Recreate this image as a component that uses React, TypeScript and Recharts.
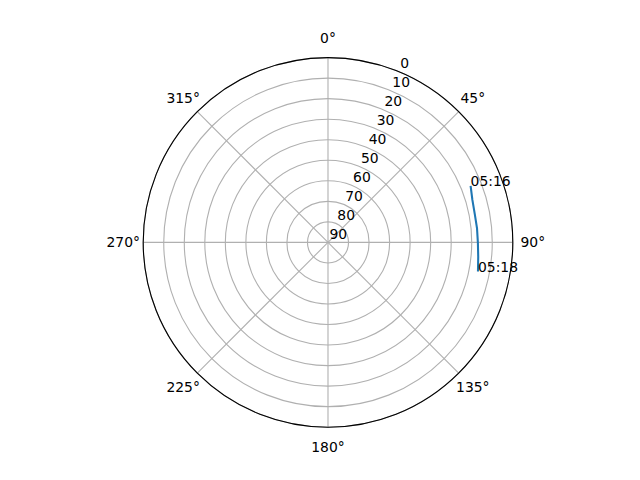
import { RadarChart, Radar, PolarGrid, PolarAngleAxis, PolarRadiusAxis } from 'recharts';

// pass track (azimuth deg, elevation deg)
const TIMES = ['05:16', '05:16:20', '05:16:40', '05:17', '05:17:20', '05:17:40', '05:18'];
const AZIMUTH = [68.4, 73.6, 79.1, 84.5, 90.2, 95.5, 101.0];
const ELEVATION = [15.3, 16.7, 17.2, 17.1, 17.0, 16.5, 15.6];
const ANGLE_TICKS = [0, 45, 90, 135, 180, 225, 270, 315];
const LABELLED = ['05:16', '05:18'];

const data = TIMES.map((t, i) => ({ time: t, az: AZIMUTH[i], el: ELEVATION[i] }));

const FONT = 'DejaVu Sans, sans-serif';
const FS = 13.9;

const AngleTick = (props: any) => (
  <text x={props.x} y={props.y + 5} textAnchor="middle" fontFamily={FONT} fontSize={FS} fill="#000">
    {`${props.payload.value}°`}
  </text>
);

const RadiusTick = (props: any) => (
  <text x={props.x + 1.5} y={props.y - 3.3} textAnchor="start" fontFamily={FONT} fontSize={FS} fill="#000">
    {props.payload.value}
  </text>
);

// open polyline (Radar closes its polygon) + first/last time annotations
const TrackShape = (props: any) => {
  const pts = (props.points || []) as any[];
  return (
    <g>
      <polyline
        points={pts.map((p) => `${p.x},${p.y}`).join(' ')}
        fill="none"
        stroke="#1f77b4"
        strokeWidth={2.08}
        strokeLinejoin="round"
      />
      {pts
        .filter((p) => LABELLED.includes(p.payload.time))
        .map((p) => (
          <text key={p.payload.time} x={p.x} y={p.y} fontFamily={FONT} fontSize={FS} fill="#000">
            {p.payload.time}
          </text>
        ))}
    </g>
  );
};

export default function App() {
  return (
    <div style={{ position: 'absolute', left: 0, top: 0, width: 640, height: 480, background: '#fff' }}>
      <RadarChart
        width={640}
        height={480}
        data={data}
        cx={328}
        cy={242.4}
        innerRadius={0}
        outerRadius={184.8}
        startAngle={90}
        endAngle={-270}
        margin={{ top: 0, right: 0, bottom: 0, left: 0 }}
      >
        <PolarGrid gridType="circle" stroke="#b0b0b0" strokeWidth={1.1} />
        <PolarAngleAxis
          dataKey="az"
          type="number"
          domain={[0, 360]}
          allowDataOverflow
          ticks={ANGLE_TICKS}
          tick={AngleTick}
          tickSize={20}
          tickLine={false}
          axisLineType="circle"
          stroke="#000"
          axisLine={{ stroke: '#000', strokeWidth: 1.1 }}
        />
        <PolarRadiusAxis
          type="number"
          angle={67.5}
          domain={[0, 90]}
          tickCount={10}
          allowDecimals={false}
          reversed
          axisLine={false}
          tick={RadiusTick}
        />
        <Radar
          dataKey="el"
          isAnimationActive={false}
          dot={false}
          fill="none"
          stroke="#1f77b4"
          shape={TrackShape}
        />
      </RadarChart>
    </div>
  );
}
